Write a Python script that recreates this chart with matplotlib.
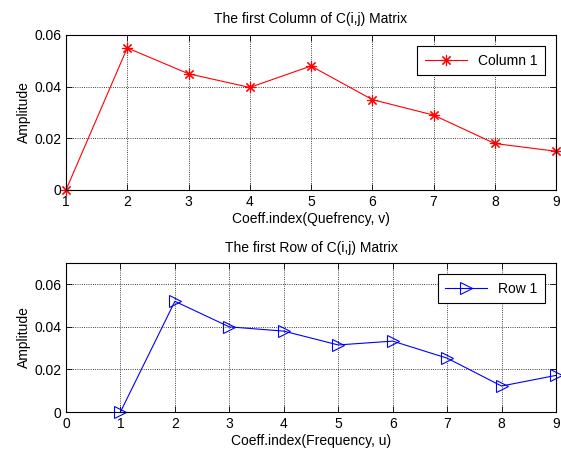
import numpy as np
import matplotlib.pyplot as plt

plt.rcParams['font.family'] = 'Liberation Sans'
plt.rcParams['font.size'] = 10

# data
col_x = [1, 2, 3, 4, 5, 6, 7, 8, 9]
col_y = [0.0, 0.055, 0.045, 0.0397, 0.048, 0.035, 0.029, 0.018, 0.015]
row_x = [1, 2, 3, 4, 5, 6, 7, 8, 9]
row_y = [0.0, 0.052, 0.040, 0.038, 0.0315, 0.0333, 0.0253, 0.0122, 0.0172]

fig = plt.figure(figsize=(5.61, 4.53), dpi=100)
W, H = 561.0, 453.0
ax1 = fig.add_axes([66/W, 1-190/H, 490/W, 155/H])
ax2 = fig.add_axes([66/W, 1-412/H, 490/W, 149/H])

def style(ax):
    ax.grid(True, color='k', linestyle=':', linewidth=0.6)
    ax.tick_params(direction='in', top=True, right=True, length=4, width=0.6)
    for s in ax.spines.values():
        s.set_linewidth(0.8)
    ax.set_axisbelow(True)

# matlab style asterisk: 8 spokes
ax1.plot(col_x, col_y, color='r', marker=(8, 2, 0), markersize=8, markeredgewidth=0.8,
         linewidth=0.8, label='Column 1', clip_on=False)
ax1.set_xlim(1, 9)
ax1.set_ylim(0, 0.06)
ax1.set_xticks(range(1, 10))
ax1.set_yticks([0, 0.02, 0.04, 0.06])
ax1.set_yticklabels(['0', '0.02', '0.04', '0.06'])
ax1.set_title('The first Column of C(i,j) Matrix', fontsize=10, pad=9)
ax1.set_xlabel('Coeff.index(Quefrency, v)', labelpad=2)
ax1.set_ylabel('Amplitude', labelpad=2)
style(ax1)
leg1 = ax1.legend(loc='upper right', fancybox=False, edgecolor='k', framealpha=1,
                  handlelength=3, borderaxespad=0.8, borderpad=0.55)
leg1.get_frame().set_linewidth(0.8)

ax2.plot(row_x, row_y, color='b', marker='>', markersize=8, markerfacecolor='none',
         markeredgewidth=0.8, linewidth=0.8, label='Row 1', clip_on=False)
ax2.set_xlim(0, 9)
ax2.set_ylim(0, 0.07)
ax2.set_xticks(range(0, 10))
ax2.set_yticks([0, 0.02, 0.04, 0.06])
ax2.set_yticklabels(['0', '0.02', '0.04', '0.06'])
ax2.set_title('The first Row of C(i,j) Matrix', fontsize=10, pad=8)
ax2.set_xlabel('Coeff.index(Frequency, u)', labelpad=2)
ax2.set_ylabel('Amplitude', labelpad=2)
style(ax2)
leg2 = ax2.legend(loc='upper right', fancybox=False, edgecolor='k', framealpha=1,
                  handlelength=3, borderaxespad=0.8, borderpad=0.55)
leg2.get_frame().set_linewidth(0.8)

fig.savefig('out.png', dpi=100)
